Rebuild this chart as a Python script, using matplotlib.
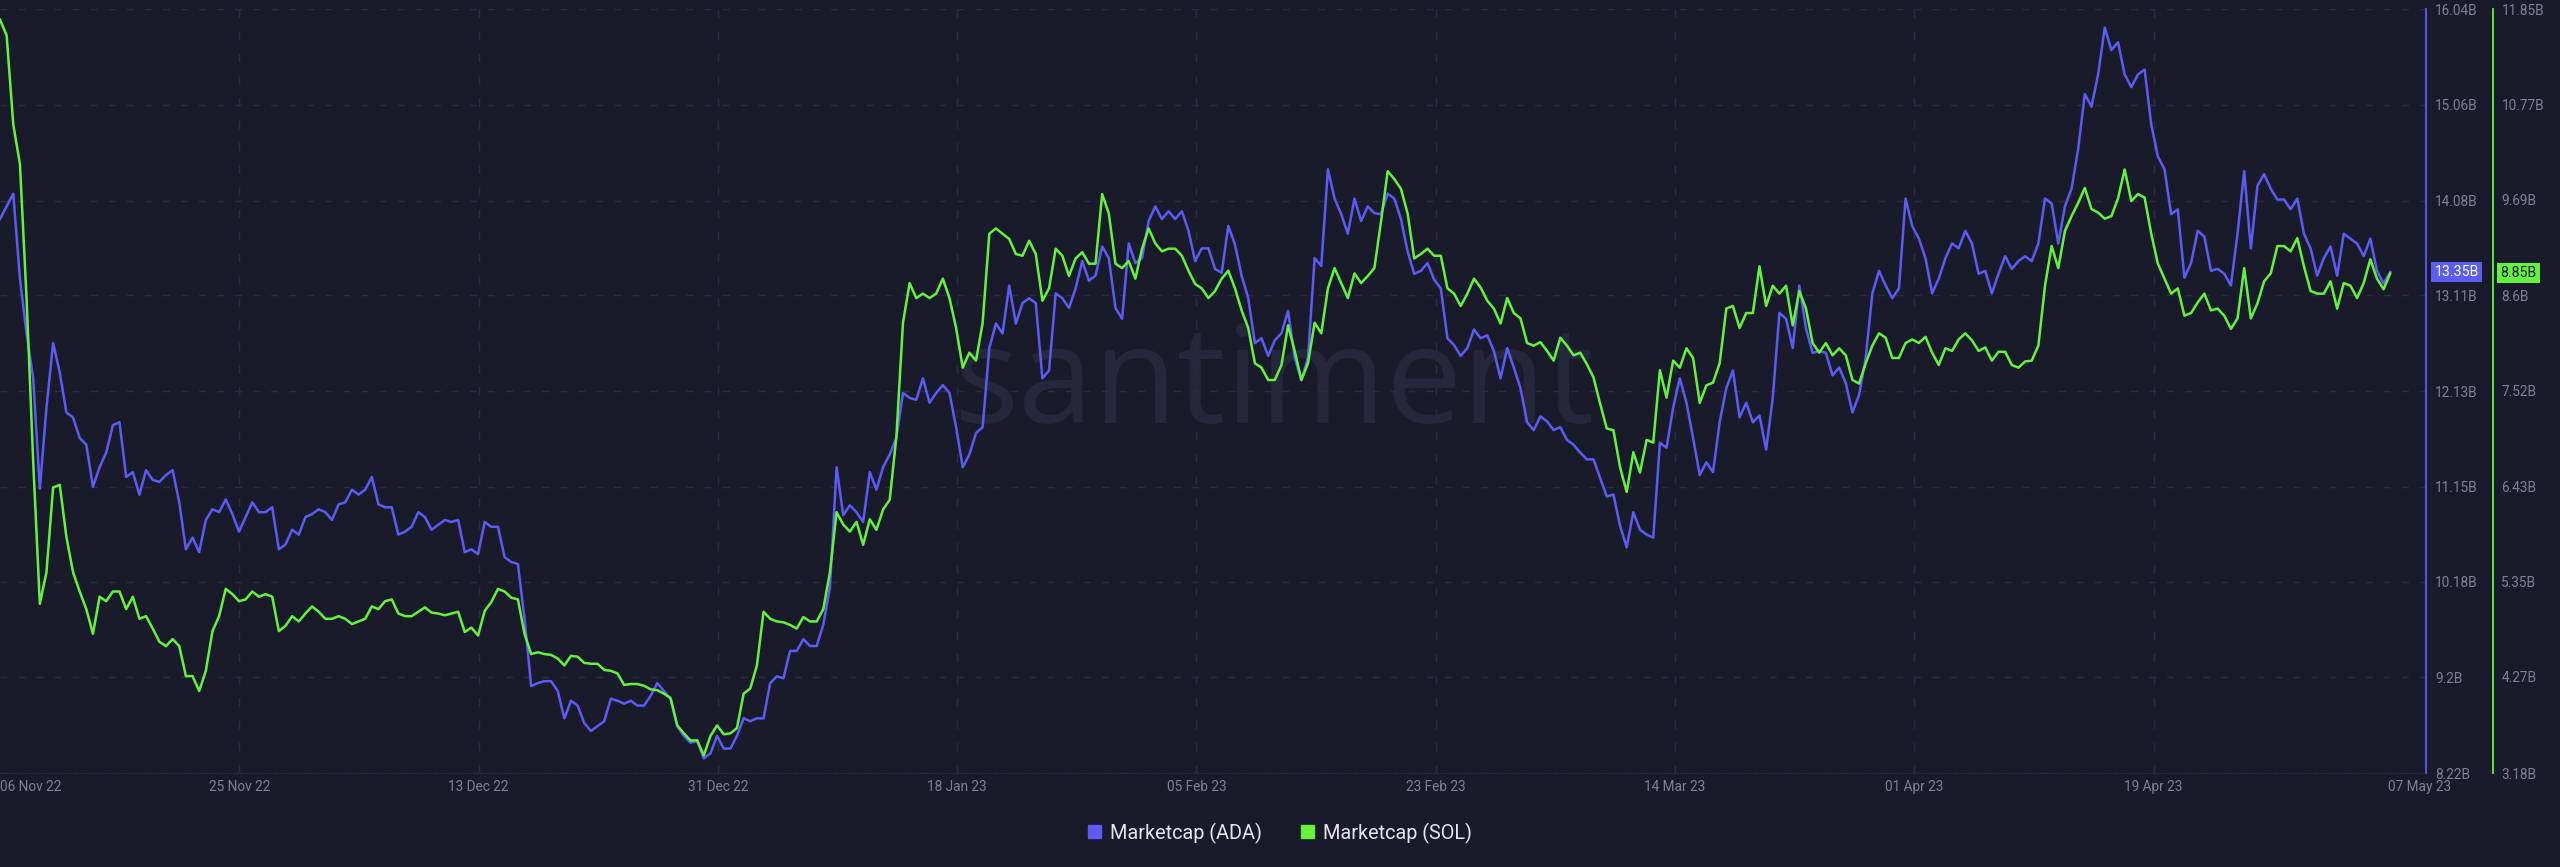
import numpy as np
import pandas as pd
import matplotlib
matplotlib.use('Agg')
import matplotlib.pyplot as plt
import matplotlib.transforms as mtransforms
from matplotlib.patches import Patch

plt.rcParams['font.family'] = ['Roboto', 'DejaVu Sans']

# 12-hourly samples, 07 Nov 22 -> 06 May 23
dates = pd.date_range('2022-11-07', periods=361, freq='12h')

# Marketcap ADA (billions USD)
ada = [13.89, 14.02, 14.15, 13.28, 12.72, 12.26, 11.13, 11.96, 12.62, 12.32,
       11.91, 11.86, 11.65, 11.58, 11.15, 11.35, 11.50, 11.78, 11.81, 11.25,
       11.30, 11.07, 11.32, 11.22, 11.20, 11.27, 11.32, 10.99, 10.51, 10.63,
       10.48, 10.81, 10.92, 10.89, 11.02, 10.87, 10.69, 10.84, 10.99, 10.89,
       10.89, 10.94, 10.51, 10.56, 10.71, 10.66, 10.84, 10.87, 10.92, 10.89,
       10.81, 10.97, 10.99, 11.12, 11.07, 11.12, 11.25, 10.97, 10.94, 10.94,
       10.66, 10.69, 10.74, 10.89, 10.84, 10.71, 10.76, 10.81, 10.79, 10.81,
       10.48, 10.51, 10.46, 10.79, 10.74, 10.74, 10.43, 10.38, 10.36, 9.80,
       9.11, 9.14, 9.16, 9.16, 9.06, 8.78, 8.96, 8.91, 8.73, 8.65,
       8.70, 8.75, 8.98, 8.96, 8.93, 8.96, 8.91, 8.91, 9.01, 9.14,
       9.06, 8.98, 8.70, 8.60, 8.53, 8.55, 8.37, 8.42, 8.60, 8.47,
       8.47, 8.60, 8.78, 8.75, 8.78, 8.78, 9.14, 9.21, 9.19, 9.47,
       9.47, 9.59, 9.52, 9.52, 9.74, 10.12, 11.35, 10.86, 10.96, 10.89,
       10.79, 11.30, 11.12, 11.35, 11.48, 11.65, 12.11, 12.06, 12.04, 12.26,
       12.01, 12.11, 12.19, 12.11, 11.76, 11.35, 11.48, 11.70, 11.76, 12.57,
       12.82, 12.72, 13.21, 12.82, 13.03, 13.08, 13.03, 12.26, 12.34, 13.13,
       13.08, 12.98, 13.18, 13.46, 13.26, 13.31, 13.61, 13.49, 12.98, 12.87,
       13.64, 13.44, 13.49, 13.87, 14.02, 13.89, 13.97, 13.89, 13.97, 13.77,
       13.46, 13.59, 13.59, 13.38, 13.34, 13.82, 13.63, 13.31, 13.08, 12.62,
       12.67, 12.49, 12.65, 12.72, 12.95, 12.47, 12.24, 12.47, 13.49, 13.41,
       14.40, 14.10, 13.94, 13.74, 14.10, 13.87, 14.02, 13.95, 13.94, 14.15,
       14.10, 13.89, 13.56, 13.33, 13.36, 13.44, 13.27, 13.18, 12.67, 12.60,
       12.49, 12.57, 12.76, 12.67, 12.70, 12.54, 12.26, 12.57, 12.37, 12.16,
       11.81, 11.73, 11.87, 11.82, 11.73, 11.76, 11.63, 11.58, 11.50, 11.43,
       11.43, 11.24, 11.05, 11.07, 10.75, 10.53, 10.89, 10.71, 10.66, 10.63,
       11.60, 11.55, 11.96, 12.26, 12.01, 11.65, 11.27, 11.40, 11.30, 11.81,
       12.16, 12.34, 11.86, 12.01, 11.81, 11.88, 11.53, 12.06, 12.93, 12.87,
       12.57, 13.21, 12.77, 12.52, 12.54, 12.52, 12.29, 12.37, 12.21, 11.91,
       12.09, 12.47, 13.13, 13.36, 13.21, 13.08, 13.18, 14.10, 13.82, 13.69,
       13.49, 13.13, 13.28, 13.49, 13.64, 13.59, 13.77, 13.64, 13.33, 13.36,
       13.13, 13.33, 13.51, 13.38, 13.46, 13.51, 13.46, 13.64, 14.10, 14.05,
       13.64, 14.02, 14.20, 14.61, 15.17, 15.04, 15.37, 15.85, 15.62, 15.70,
       15.37, 15.24, 15.37, 15.42, 14.86, 14.53, 14.40, 13.94, 13.99, 13.29,
       13.44, 13.77, 13.71, 13.36, 13.38, 13.33, 13.21, 13.74, 14.38, 13.59,
       14.23, 14.35, 14.20, 14.09, 14.09, 13.99, 14.10, 13.74, 13.59, 13.31,
       13.49, 13.61, 13.31, 13.74, 13.69, 13.64, 13.51, 13.69, 13.36, 13.23, 13.35]

# Marketcap SOL (billions USD)
sol = [11.73, 11.55, 10.54, 10.09, 8.57, 6.71, 5.10, 5.46, 6.42, 6.45,
       5.86, 5.46, 5.24, 5.04, 4.76, 5.18, 5.13, 5.24, 5.24, 5.04,
       5.18, 4.93, 4.96, 4.82, 4.67, 4.62, 4.70, 4.62, 4.28, 4.28,
       4.11, 4.34, 4.79, 4.96, 5.27, 5.21, 5.13, 5.15, 5.24, 5.18,
       5.21, 5.18, 4.79, 4.85, 4.96, 4.90, 4.99, 5.07, 5.01, 4.93,
       4.93, 4.96, 4.93, 4.87, 4.90, 4.93, 5.07, 5.04, 5.13, 5.15,
       4.99, 4.96, 4.96, 5.01, 5.06, 5.00, 4.99, 4.97, 4.99, 5.01,
       4.78, 4.83, 4.74, 5.02, 5.12, 5.27, 5.24, 5.17, 5.15, 4.76,
       4.53, 4.55, 4.53, 4.52, 4.48, 4.40, 4.51, 4.50, 4.43, 4.42,
       4.42, 4.35, 4.34, 4.31, 4.18, 4.19, 4.19, 4.17, 4.13, 4.12,
       4.08, 4.03, 3.72, 3.63, 3.55, 3.55, 3.38, 3.60, 3.72, 3.62,
       3.63, 3.69, 4.08, 4.14, 4.40, 5.01, 4.93, 4.90, 4.89, 4.86,
       4.82, 4.95, 4.90, 4.90, 5.04, 5.46, 6.14, 6.00, 5.92, 6.03,
       5.77, 6.06, 5.94, 6.17, 6.28, 6.99, 8.29, 8.74, 8.57, 8.62,
       8.57, 8.62, 8.79, 8.57, 8.23, 7.78, 7.95, 7.86, 8.29, 9.30,
       9.36, 9.30, 9.24, 9.07, 9.05, 9.22, 9.07, 8.54, 8.68, 9.13,
       9.05, 8.82, 9.02, 9.09, 8.96, 8.96, 9.75, 9.53, 8.96, 8.91,
       8.99, 8.79, 9.13, 9.36, 9.19, 9.10, 9.13, 9.13, 9.05, 8.88,
       8.73, 8.68, 8.57, 8.65, 8.79, 8.88, 8.68, 8.43, 8.23, 7.83,
       7.78, 7.64, 7.64, 7.81, 8.26, 7.97, 7.64, 7.83, 8.29, 8.17,
       8.68, 8.91, 8.74, 8.57, 8.85, 8.74, 8.82, 8.91, 9.44, 10.01,
       9.92, 9.81, 9.53, 9.02, 9.07, 9.13, 9.05, 9.05, 8.68, 8.62,
       8.48, 8.62, 8.79, 8.69, 8.54, 8.45, 8.28, 8.57, 8.40, 8.34,
       8.06, 8.03, 8.07, 7.97, 7.86, 8.12, 8.03, 7.92, 7.95, 7.82,
       7.67, 7.37, 7.09, 7.07, 6.65, 6.37, 6.82, 6.59, 6.96, 6.93,
       7.75, 7.44, 7.86, 7.78, 8.00, 7.89, 7.38, 7.58, 7.61, 7.83,
       8.45, 8.48, 8.23, 8.40, 8.40, 8.93, 8.48, 8.71, 8.62, 8.71,
       8.26, 8.65, 8.45, 8.06, 7.95, 8.06, 7.92, 8.00, 7.92, 7.64,
       7.60, 7.83, 8.03, 8.17, 8.12, 7.89, 7.89, 8.06, 8.10, 8.06,
       8.13, 7.95, 7.81, 8.00, 7.97, 8.10, 8.17, 8.09, 7.97, 8.01,
       7.86, 7.96, 7.96, 7.81, 7.78, 7.85, 7.86, 8.03, 8.71, 9.16,
       8.91, 9.33, 9.50, 9.65, 9.82, 9.58, 9.54, 9.47, 9.50, 9.70,
       10.03, 9.67, 9.75, 9.71, 9.30, 8.96, 8.79, 8.62, 8.68, 8.37,
       8.40, 8.52, 8.62, 8.43, 8.45, 8.37, 8.22, 8.34, 8.91, 8.34,
       8.51, 8.76, 8.85, 9.16, 9.16, 9.10, 9.25, 8.93, 8.65, 8.62,
       8.62, 8.76, 8.45, 8.74, 8.71, 8.57, 8.74, 9.01, 8.79, 8.67, 8.85]

ada_ticks = [8.22, 9.2, 10.18, 11.15, 12.13, 13.11, 14.08, 15.06, 16.04]
sol_ticks = [3.18, 4.27, 5.35, 6.43, 7.52, 8.6, 9.69, 10.77, 11.85]
date_labels = ['06 Nov 22', '25 Nov 22', '13 Dec 22', '31 Dec 22', '18 Jan 23',
               '05 Feb 23', '23 Feb 23', '14 Mar 23', '01 Apr 23', '19 Apr 23',
               '07 May 23']

bg = '#1a1b2a'
blue = '#5b5cf4'
green = '#65f23e'
gridc = '#2a2d41'
txtc = '#7d8297'

fig = plt.figure(figsize=(25.6, 8.67), dpi=100, facecolor=bg)
ax = fig.add_axes([0, 0.1084, 0.9477, 0.8812])
ax.set_facecolor(bg)
ax2 = ax.twinx()

# watermark
ax.text(0.525, 0.458, 'santiment', transform=ax.transAxes, fontsize=98,
        family='Open Sans', color='#25283b', ha='center', va='baseline', zorder=0)

ax.plot(dates, ada, color=blue, lw=1.8, zorder=3)
ax2.plot(dates, sol, color=green, lw=1.8, zorder=3)

t0 = dates[0]
ax.set_xlim(t0, t0 + pd.Timedelta(days=182.7))
tick_pos = [t0 + pd.Timedelta(days=18.02 * i) for i in range(10)] + [t0 + pd.Timedelta(days=182.2)]
ax.set_xticks(tick_pos)
ax.set_xticklabels(date_labels)
ax.get_xticklabels()[0].set_ha('left')
for tp in tick_pos[1:10]:
    ax.axvline(tp, color=gridc, lw=1, linestyle=(0, (6, 10)), zorder=1)

ax.set_ylim(ada_ticks[0], ada_ticks[-1])
ax.set_yticks(ada_ticks)
ax.set_yticklabels([f'{v:g}B' for v in ada_ticks])
ax.yaxis.tick_right()
ax.grid(axis='y', color=gridc, lw=1, linestyle=(0, (5, 8)), zorder=1)
ax.grid(axis='x', visible=False)

ax2.set_ylim(sol_ticks[0], sol_ticks[-1])
ax2.set_yticks(sol_ticks)
ax2.set_yticklabels([f'{v:g}B' for v in sol_ticks])
ax2.spines['right'].set_position(('axes', 2493 / 2426))

ax.tick_params(axis='x', length=0, pad=5, colors=txtc, labelsize=9.8)
ax.tick_params(axis='y', length=0, pad=6.5, colors=txtc, labelsize=9.8)
ax2.tick_params(axis='y', length=0, pad=6, colors=txtc, labelsize=9.8)

for s in ['top', 'left']:
    ax.spines[s].set_visible(False)
ax.spines['bottom'].set_color(gridc)
ax.spines['bottom'].set_linestyle((0, (1, 2)))
ax.spines['right'].set_color(blue)
ax.spines['right'].set_linewidth(1.3)
for s in ['top', 'left', 'bottom']:
    ax2.spines[s].set_visible(False)
ax2.spines['right'].set_color(green)
ax2.spines['right'].set_linewidth(1.3)

# last value badges
tr1 = mtransforms.blended_transform_factory(ax.transAxes, ax.transData)
ax.text(1 + 8.5 / 2426, ada[-1], f'{ada[-1]:.2f}B', transform=tr1, ha='left', va='center',
        fontsize=10.2, color='white', clip_on=False, zorder=5,
        bbox=dict(boxstyle='square,pad=0.22', fc=blue, ec='none'))
tr2 = mtransforms.blended_transform_factory(ax2.transAxes, ax2.transData)
ax2.text(1 + 74.5 / 2426, sol[-1], f'{sol[-1]:.2f}B', transform=tr2, ha='left', va='center',
         fontsize=10.2, color='#1a1b2a', clip_on=False, zorder=5,
         bbox=dict(boxstyle='square,pad=0.22', fc=green, ec='none'))

handles = [Patch(color=blue), Patch(color=green)]
fig.legend(handles, ['Marketcap (ADA)', 'Marketcap (SOL)'], loc='center',
           bbox_to_anchor=(0.5, 1 - 833 / 867), ncol=2, frameon=False,
           fontsize=14.3, labelcolor='#e4e6ee', handlelength=0.62, handleheight=0.62,
           columnspacing=2.0, handletextpad=0.45)

fig.savefig('out.png', dpi=100, facecolor=bg)
